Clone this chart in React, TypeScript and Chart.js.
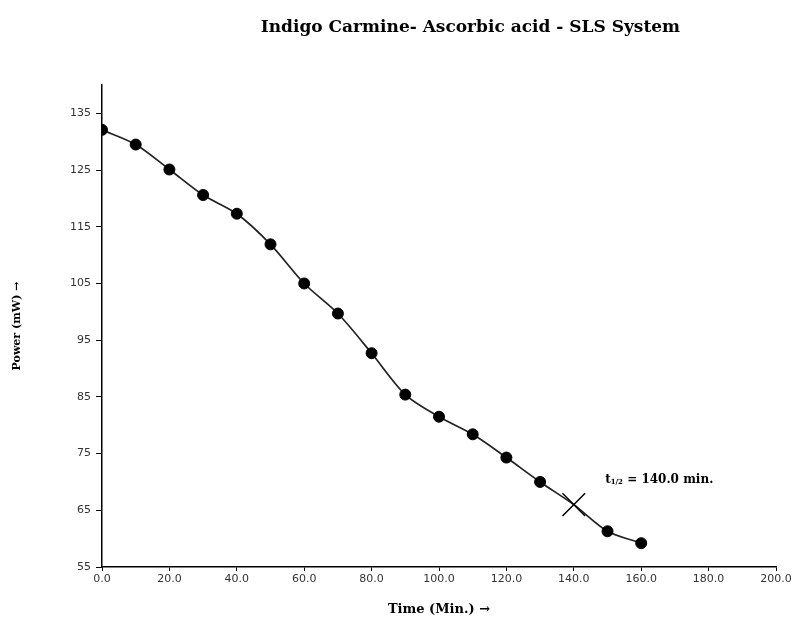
import React, { useEffect, useRef } from "react";
import { Chart, registerables } from "chart.js";

Chart.register(...registerables);

// ---- data ----
const timeMin = [0, 10, 20, 30, 40, 50, 60, 70, 80, 90, 100, 110, 120, 130, 140, 150, 160];
const powerMW = [132.1, 129.5, 125.1, 120.6, 117.3, 111.9, 105.0, 99.7, 92.7, 85.4, 81.5, 78.4, 74.3, 70.0, 66.0, 61.3, 59.2];
const halfLifeTime = 140;
const xTickValues = [0, 20, 40, 60, 80, 100, 120, 140, 160, 180, 200];
const yTickValues = [55, 65, 75, 85, 95, 105, 115, 125, 135];
const chartTitle = "Indigo Carmine- Ascorbic acid - SLS System";
const xAxisTitle = "Time (Min.) \u2192";
const yAxisTitle = "Power (mW) \u2192";
const annotationPos = [149.3, 70.4];
const annotationParts = ["t", "1/2", " = 140.0 min."];

const SERIF = "'DejaVu Serif', 'Liberation Serif', serif";
const SANS = "'DejaVu Sans', sans-serif";

const overlayPlugin = {
  id: "overlay",
  afterDraw(chart: any) {
    const ctx = chart.ctx as CanvasRenderingContext2D;
    const xs = chart.scales.x;
    const ys = chart.scales.y;
    ctx.save();
    // title
    ctx.fillStyle = "#000";
    ctx.font = `bold 17px ${SERIF}`;
    ctx.textAlign = "center";
    ctx.textBaseline = "middle";
    ctx.fillText(chartTitle, chart.width * 0.591, 28);
    // half-life annotation
    let px = xs.getPixelForValue(annotationPos[0]);
    const py = ys.getPixelForValue(annotationPos[1]);
    ctx.textAlign = "left";
    ctx.font = `bold 12px ${SERIF}`;
    ctx.fillText(annotationParts[0], px, py);
    px += ctx.measureText(annotationParts[0]).width;
    ctx.font = `bold 7px ${SERIF}`;
    ctx.fillText(annotationParts[1], px, py + 3);
    px += ctx.measureText(annotationParts[1]).width;
    ctx.font = `bold 12px ${SERIF}`;
    ctx.fillText(annotationParts[2], px, py);
    ctx.restore();
  },
};

export default function App() {
  const ref = useRef<HTMLCanvasElement | null>(null);
  useEffect(() => {
    if (!ref.current) return;
    const pointStyles = timeMin.map((t) => (t === halfLifeTime ? "crossRot" : "circle"));
    const pointRadii = timeMin.map((t) => (t === halfLifeTime ? 16 : 5.5));
    const pointBorders = timeMin.map((t) => (t === halfLifeTime ? 1.5 : 1));
    const chart = new Chart(ref.current, {
      type: "line",
      data: {
        datasets: [
          {
            data: timeMin.map((t, i) => ({ x: t, y: powerMW[i] })),
            borderColor: "#222",
            borderWidth: 1.7,
            backgroundColor: "#000",
            pointBackgroundColor: "#000",
            pointBorderColor: "#000",
            pointBorderWidth: pointBorders,
            pointStyle: pointStyles as any,
            pointRadius: pointRadii,
            tension: 0.3,
          },
        ],
      },
      options: {
        animation: false,
        responsive: false,
        layout: { padding: { top: 85, right: 20, left: 0, bottom: 0 } },
        plugins: { legend: { display: false }, tooltip: { enabled: false }, title: { display: false } },
        scales: {
          x: {
            type: "linear",
            min: 0,
            max: 200,
            afterBuildTicks: (s: any) => {
              s.ticks = xTickValues.map((v) => ({ value: v }));
            },
            afterFit: (s: any) => {
              s.height = 50;
              s.paddingLeft = 0;
              s.paddingRight = 0;
            },
            ticks: {
              font: { family: SANS, size: 11 },
              color: "#333",
              padding: 2,
              maxRotation: 0,
              callback: (v: any) => Number(v).toFixed(1),
            },
            grid: { display: true, drawOnChartArea: false, drawTicks: true, tickLength: 4, color: "#000", lineWidth: 1 },
            border: { display: true, color: "#000", width: 1.5 },
            title: {
              display: true,
              text: xAxisTitle,
              font: { family: SERIF, size: 13, weight: "bold" },
              color: "#000",
              padding: { top: 4, bottom: 0 },
            },
          },
          y: {
            type: "linear",
            min: 55,
            max: 140,
            afterBuildTicks: (s: any) => {
              s.ticks = yTickValues.map((v) => ({ value: v }));
            },
            afterFit: (s: any) => {
              s.width = 102;
              s.paddingTop = 0;
              s.paddingBottom = 0;
            },
            ticks: {
              font: { family: SANS, size: 11 },
              color: "#333",
              padding: 5,
            },
            grid: { display: true, drawOnChartArea: false, drawTicks: true, tickLength: 6, color: "#000", lineWidth: 1 },
            border: { display: true, color: "#000", width: 1.5 },
            title: {
              display: true,
              text: yAxisTitle,
              font: { family: SERIF, size: 11, weight: "bold" },
              color: "#000",
              padding: { top: 11, bottom: 0 },
            },
          },
        },
      },
      plugins: [overlayPlugin],
    });
    return () => chart.destroy();
  }, []);
  return (
    <div style={{ position: "absolute", left: 0, top: 0, width: 796, height: 617, background: "#fff" }}>
      <canvas ref={ref} width={796} height={617} style={{ display: "block" }} />
    </div>
  );
}
